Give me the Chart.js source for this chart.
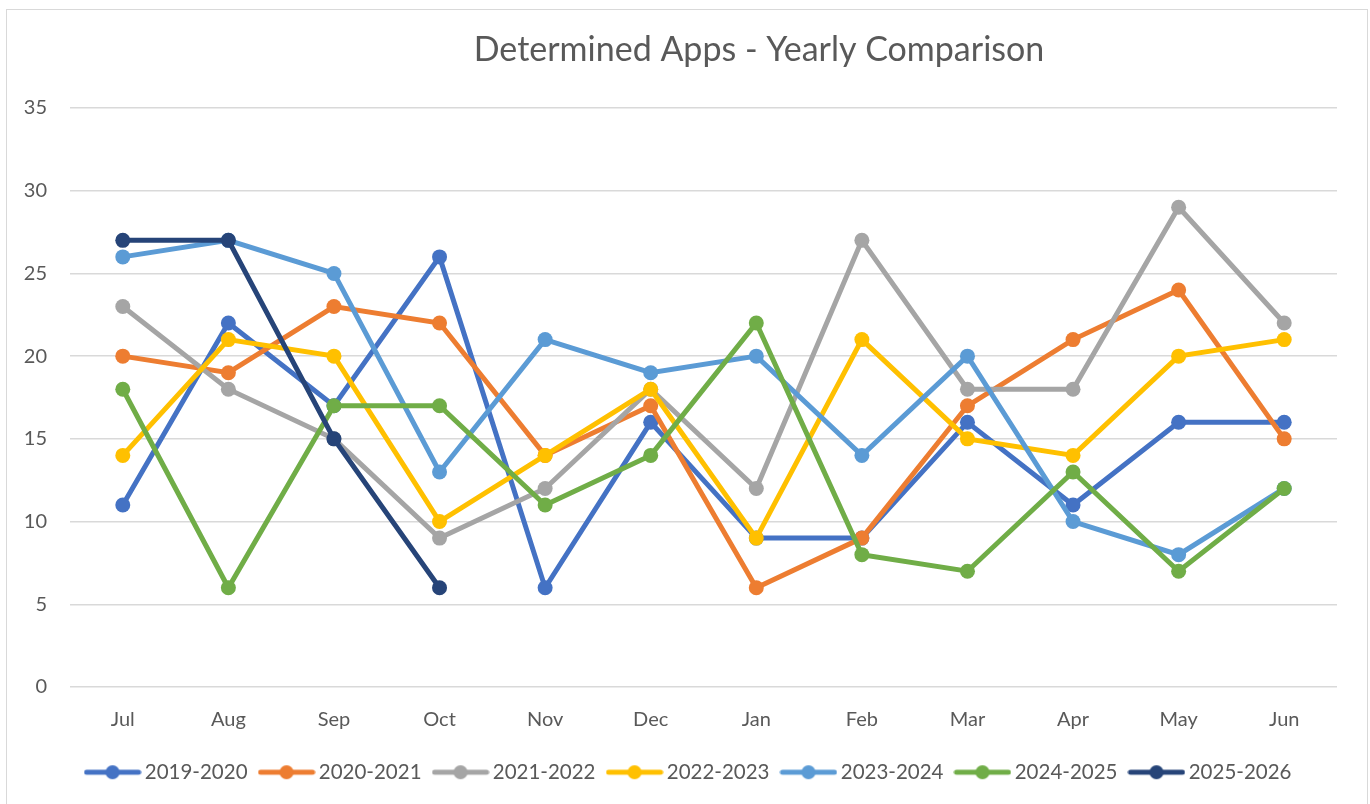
<!DOCTYPE html>
<html>
<head>
<meta charset="utf-8">
<title>Determined Apps - Yearly Comparison</title>
<script src="https://cdn.jsdelivr.net/npm/chart.js@4"></script>
<style>
    html, body { margin: 0; padding: 0; background: #ffffff; overflow: hidden; }
    #frame {
        position: absolute;
        left: 6px;
        top: 9px;
        width: 1360px;
        height: 820px;
        border: 1px solid #d9d9d9;
    }
</style>
</head>
<body>
<div id="frame">
    <canvas id="appsChart" width="1360" height="820"></canvas>
</div>
<script>
const months = ["Jul", "Aug", "Sep", "Oct", "Nov", "Dec", "Jan", "Feb", "Mar", "Apr", "May", "Jun"];
const yTicks = [0, 5, 10, 15, 20, 25, 30, 35];

const seriesLabels = ["2019-2020", "2020-2021", "2021-2022", "2022-2023", "2023-2024", "2024-2025", "2025-2026"];
const seriesColors = ["#4472c4", "#ed7d31", "#a5a5a5", "#ffc000", "#5b9bd5", "#70ad47", "#264478"];

const apps2019 = [11, 22, 17, 26, 6, 16, 9, 9, 16, 11, 16, 16];
const apps2020 = [20, 19, 23, 22, 14, 17, 6, 9, 17, 21, 24, 15];
const apps2021 = [23, 18, 15, 9, 12, 18, 12, 27, 18, 18, 29, 22];
const apps2022 = [14, 21, 20, 10, 14, 18, 9, 21, 15, 14, 20, 21];
const apps2023 = [26, 27, 25, 13, 21, 19, 20, 14, 20, 10, 8, 12];
const apps2024 = [18, 6, 17, 17, 11, 14, 22, 8, 7, 13, 7, 12];
const apps2025 = [27, 27, 15, 6, null, null, null, null, null, null, null, null];

const seriesValues = [apps2019, apps2020, apps2021, apps2022, apps2023, apps2024, apps2025];

const textColor = "#595959";
const gridColor = "#d9d9d9";

// legend symbol: short line with a dot in the middle, like Excel
function makeLegendIcon(color) {
    const c = document.createElement("canvas");
    c.width = 58;
    c.height = 16;
    const g = c.getContext("2d");
    g.strokeStyle = color;
    g.lineWidth = 5;
    g.lineCap = "round";
    g.beginPath();
    g.moveTo(3, 8);
    g.lineTo(55, 8);
    g.stroke();
    g.fillStyle = color;
    g.beginPath();
    g.arc(29, 8, 7, 0, Math.PI * 2);
    g.fill();
    return c;
}
const legendIcons = seriesColors.map(makeLegendIcon);

const datasets = seriesLabels.map((label, i) => ({
    label: label,
    data: seriesValues[i],
    borderColor: seriesColors[i],
    backgroundColor: seriesColors[i],
    borderWidth: 5,
    pointRadius: 7.5,
    pointHoverRadius: 7.5,
    pointBorderWidth: 0,
    pointBackgroundColor: seriesColors[i],
    tension: 0,
    spanGaps: false,
    order: seriesLabels.length - i
}));

// Excel puts the title and legend a bit right of the canvas centre
const shiftBlocks = {
    id: "shiftBlocks",
    afterLayout(chart) {
        chart.titleBlock.left += 174;
        chart.legend.left += 38;
    }
};

const ctx = document.getElementById("appsChart").getContext("2d");
new Chart(ctx, {
    type: "line",
    data: {
        labels: months,
        datasets: datasets
    },
    plugins: [shiftBlocks],
    options: {
        responsive: false,
        animation: false,
        layout: {
            padding: { left: 0, right: 30, top: 0, bottom: 37.5 }
        },
        plugins: {
            title: {
                display: true,
                text: "Determined Apps - Yearly Comparison",
                color: textColor,
                font: { family: "Lato", size: 34, weight: "normal" },
                padding: { top: 19.5, bottom: 37.7 }
            },
            legend: {
                position: "bottom",
                labels: {
                    usePointStyle: true,
                    pointStyleWidth: 44,
                    padding: 17,
                    color: textColor,
                    font: { family: "Lato", size: 20.5 },
                    generateLabels: chart => chart.data.datasets.map((ds, i) => ({
                        text: ds.label,
                        pointStyle: legendIcons[i],
                        fontColor: textColor,
                        fillStyle: "transparent",
                        strokeStyle: "transparent",
                        lineWidth: 0,
                        hidden: false,
                        datasetIndex: i
                    }))
                }
            },
            tooltip: { enabled: false }
        },
        scales: {
            x: {
                offset: true,
                grid: { display: false },
                border: { display: false },
                ticks: {
                    color: textColor,
                    font: { family: "Lato", size: 20 },
                    padding: 13,
                    maxRotation: 0
                },
                afterFit: scale => { scale.height = 58; }
            },
            y: {
                min: 0,
                max: 35,
                afterBuildTicks: scale => { scale.ticks = yTicks.map(v => ({ value: v })); },
                grid: { color: gridColor, lineWidth: 1.5, drawTicks: false },
                border: { display: false },
                ticks: {
                    color: textColor,
                    font: { family: "Lato", size: 20 },
                    padding: 23
                },
                afterFit: scale => { scale.width = 63; }
            }
        }
    }
});
</script>
</body>
</html>
